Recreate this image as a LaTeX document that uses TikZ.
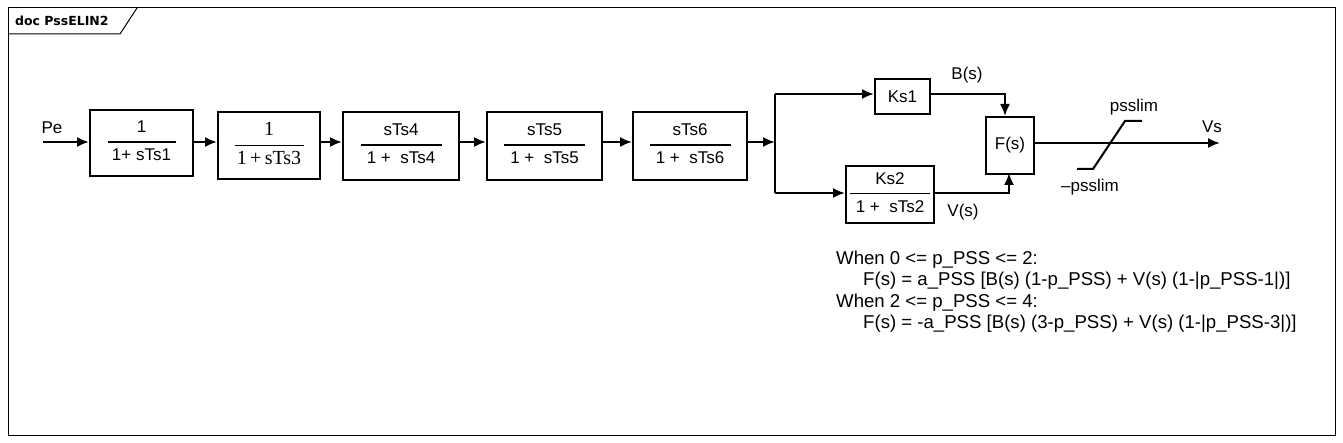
\documentclass[tikz,border=0pt]{standalone}
\usepackage{fontspec}
\setmainfont{Liberation Sans}
\newfontfamily\serf{Liberation Serif}
\newfontfamily\tabf{DejaVu Sans}
\usetikzlibrary{arrows.meta}
\newcommand\myfr[3]{\setlength\arrayrulewidth{1.3pt}\begin{tabular}{@{}c@{}}\makebox[#1]{#2}\\[3pt]\hline\rule{0pt}{18pt}#3\end{tabular}}
\begin{document}
\begin{tikzpicture}[x=1pt,y=-1pt,
  blk/.style={draw,line width=2pt,inner sep=0pt,anchor=north west,font=\fontsize{17}{19}\selectfont},
  sig/.style={line width=2pt,-{Latex[length=12pt,width=10pt]}},
  wire/.style={line width=2pt},
  lbl/.style={font=\fontsize{17}{19}\selectfont,inner sep=0pt}]
\useasboundingbox (0,0) rectangle (1343,443);
\draw[line width=1pt] (8,8) rectangle (1335,435);
\draw[line width=1pt] (8,34) -- (120,34) -- (137,8);
\node[anchor=west,inner sep=0pt,font=\tabf\bfseries\fontsize{12.5}{14}\selectfont] (title) at (15,21) {doc PssELIN2};
% blocks
\node[blk,minimum width=103pt,minimum height=66pt] (b1) at (89,109) {\myfr{68pt}{1}{1+ sTs1}};
\node[blk,minimum width=102pt,minimum height=67pt,font=\serf\fontsize{20}{22}\selectfont] (b2) at (217,111) {\myfr{69pt}{1}{1\,+\,sTs3}};
\node[blk,minimum width=116pt,minimum height=68pt] (b3) at (342,111) {\myfr{81pt}{sTs4}{1 +\ \ sTs4}};
\node[blk,minimum width=115pt,minimum height=68pt] (b4) at (486,111) {\myfr{81pt}{sTs5}{1 +\ \ sTs5}};
\node[blk,minimum width=114pt,minimum height=68pt] (b5) at (632,111) {\myfr{81pt}{sTs6}{1 +\ \ sTs6}};
\node[blk,minimum width=55pt,minimum height=35pt] (k1) at (874,78) {Ks1};
\node[blk,minimum width=88pt,minimum height=57pt] (k2) at (845,165) {\myfr{80pt}{Ks2}{1 +\ \ sTs2}};
\node[blk,minimum width=48pt,minimum height=57pt] (f) at (985,116) {F(s)};
% coordinates
\coordinate (pe) at (43,142);
\coordinate (br) at (775,142);
\coordinate (bt) at (775,94);
\coordinate (bb) at (775,193);
\coordinate (vs) at (1220,143);
\node[lbl,anchor=south] (pel) at (52,134) {Pe};
\draw[sig] (pe) -- (b1.west|-pe);
\draw[sig] (b1.east|-pe) -- (b2.west|-pe);
\draw[sig] (b2.east|-pe) -- (b3.west|-pe);
\draw[sig] (b3.east|-pe) -- (b4.west|-pe);
\draw[sig] (b4.east|-pe) -- (b5.west|-pe);
\draw[sig] (b5.east|-pe) -- (br);
\draw[wire] (bt) -- (bb);
\draw[sig] (bt) -- (k1.west|-bt);
\draw[sig] (bb) -- (k2.west|-bb);
\draw[sig] (k1.east|-bt) -| (1005,116);
\draw[sig] (k2.east|-bb) -| (1009,173);
\draw[sig] (f.east|-vs) -- (vs);
\draw[line width=2pt] (1077,169) -- (1093,169) -- (1125,121) -- (1142,121);
\node[lbl] (bl) at (967,75) {B(s)};
\node[lbl] (vl) at (963,212) {V(s)};
\node[lbl] (pl) at (1134,107) {psslim};
\node[lbl] (ml) at (1090,187) {--psslim};
\node[lbl] (vsl) at (1212,127) {Vs};
\node[anchor=north west,inner sep=0pt,font=\fontsize{18.6}{21.3}\selectfont,align=left] (eq) at (836,251) {When 0 <= p\_PSS <= 2:\\
\hspace*{27pt}F(s) = a\_PSS [B(s) (1-p\_PSS) + V(s) (1-|p\_PSS-1|)]\\
When 2 <= p\_PSS <= 4:\\
\hspace*{27pt}F(s) = -a\_PSS [B(s) (3-p\_PSS) + V(s) (1-|p\_PSS-3|)]};
\end{tikzpicture}
\end{document}
